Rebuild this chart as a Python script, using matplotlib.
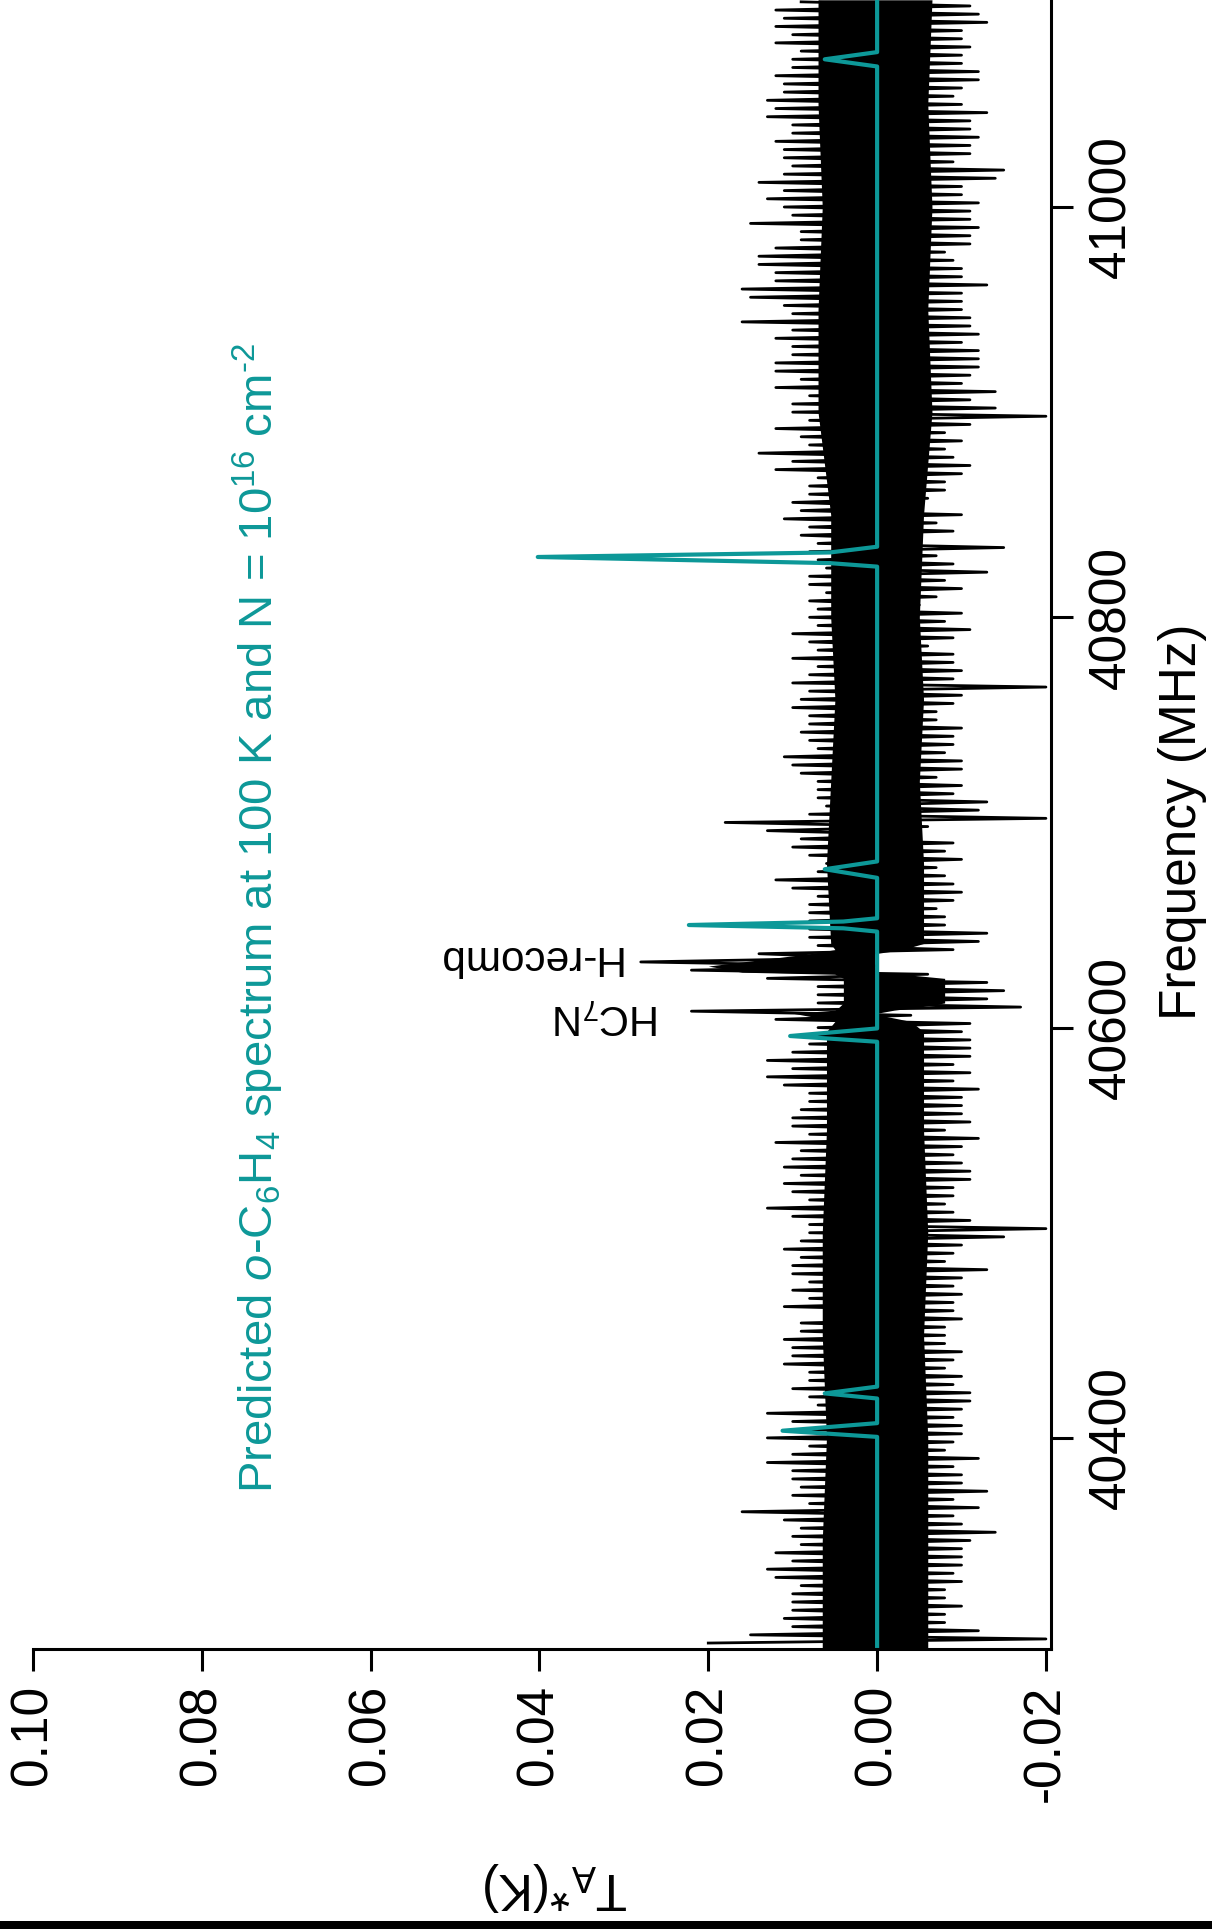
import numpy as np
import matplotlib
matplotlib.use('Agg')
import matplotlib.pyplot as plt
from matplotlib.patches import Rectangle

plt.rcParams['font.family'] = 'Liberation Sans'
plt.rcParams['mathtext.fontset'] = 'custom'
plt.rcParams['mathtext.rm'] = 'Liberation Sans'
plt.rcParams['mathtext.it'] = 'Liberation Sans:italic'

TEAL = '#0d9898'

# observed spectrum, every 2 MHz from 41100 MHz downwards, alternating
# upper (pos) and lower (neg) excursions, in mK
obs_freq = np.arange(41100, 40298, -2)
pos_mk = [9, 12, 11, 12, 10, 12, 9, 10, 10, 12, 11, 11, 13, 12, 13, 10, 10, 12, 11, 11,
          10, 11, 14, 11, 13, 11, 10, 15, 9, 9, 12, 14, 14, 12, 12, 16, 15, 11, 10, 16,
          10, 12, 10, 10, 12, 12, 9, 12, 8, 10, 10,
          8, 12, 9, 8, 14, 10, 12, 7, 8, 8, 10, 9, 11, 8, 9, 7, 8, 7, 6, 8,
          8, 6, 8, 7, 8, 7, 10, 8, 7, 10, 7, 8, 10, 8, 9, 10, 8, 8, 9, 8,
          7, 11, 10, 9, 7, 7, 7, 6, 8, 18, 13,
          9, 10, 8, 6, 7, 12, 10, 7, 8, 8, 8, 8, 8, 7, 14, 28, 22, 13, 7, 7,
          7, 22, 12, 7, 10, 8, 10, 13, 10, 13, 11, 8, 8, 9, 10, 10, 8, 12, 9, 10,
          11, 9, 11, 10, 8, 13, 10, 8, 8, 9, 11,
          9, 10, 10, 8, 10, 8, 11, 6, 9, 9, 11, 10, 10, 11, 8, 8, 10, 8, 7, 13,
          10, 8, 13, 8, 10, 13, 10, 10, 9, 10, 8, 16, 11, 9, 10, 9, 12, 10, 13, 12,
          9, 10, 10, 10, 11, 10, 15, 20]
neg_mk = [-11, -12, -13, -10, -10, -11, -10, -10, -12, -12, -10, -9, -10, -13, -11, -11, -12, -11, -11, -9,
          -15, -14, -10, -10, -12, -11, -11, -12, -11, -11, -8, -9, -10, -10, -13, -10, -10, -10, -11, -11,
          -12, -10, -12, -12, -12, -11, -10, -14, -11, -14, -20,
          -11, -8, -10, -8, -9, -11, -10, -8, -8, -6, -5, -10, -7, -9, -5, -15, -7, -9, -13, -8,
          -10, -7, -5, -10, -8, -11, -9, -6, -9, -9, -10, -9, -20, -10, -9, -7, -7, -10, -9, -9,
          -8, -10, -10, -7, -10, -9, -13, -12, -20, -6, -5,
          -9, -8, -10, -7, -8, -9, -10, -9, -7, -8, -8, -13, -12, -9, 1, 0, -6, -13, -15, -13,
          -17, -4, -11, -10, -11, -11, -11, -9, -11, -9, -12, -10, -10, -10, -11, -8, -12, -10, -9, -10,
          -11, -11, -9, -9, -8, -9, -11, -20, -15, -10, -9,
          -8, -13, -10, -9, -10, -9, -9, -10, -8, -8, -8, -10, -9, -8, -10, -9, -11, -11, -10, -9,
          -10, -10, -9, -8, -12, -9, -10, -10, -13, -9, -12, -9, -10, -14, -11, -10, -10, -10, -9, -10,
          -8, -8, -10, -8, -8, -12, -20]

# solid central part of the noise band (mK)
core_freq = [40297, 40350, 40400, 40450, 40500, 40550, 40598, 40603, 40605.5, 40607, 40608.5,
             40610, 40612, 40624, 40626, 40627, 40630, 40633, 40636, 40638, 40641,
             40680, 40720, 40760, 40800, 40850, 40900, 40950, 41000, 41050, 41101]
core_hi = [6.5, 6.5, 6, 6.5, 6.5, 6, 6, 5, 8, 10, 5,
           4.5, 4, 4, 5, 16, 20, 14, 8, 5, 5.5,
           6, 5.5, 5, 5.5, 5.5, 7, 7, 6.5, 7, 7]
core_lo = [-6, -6, -6, -5.5, -6, -5.5, -5.5, -4, -1, 0, -2,
           -5, -8, -8, -3, 0, 0.3, 0.3, 0.3, -3, -5.5,
           -5.5, -5, -5.5, -5, -5.5, -6.5, -6, -6.5, -6, -6.5]

# predicted o-C6H4 spectrum (mK)
pred_freq = [40297, 40400.5, 40403.5, 40407.2, 40419.2, 40421.7, 40425.0, 40593.1, 40595.9, 40599.6,
             40646.8, 40648.4, 40650.0, 40651.7, 40653.3, 40673.0, 40677.2, 40681.0,
             40824.7, 40826.4, 40829.4, 40831.6, 40834.4, 41068.5, 41072.0, 41075.5, 41101]
pred_mk = [0, 0, 11.2, 0, 0, 6.2, 0, 0, 10.3, 0,
           0, 4, 22.3, 4, 0, 0, 6.2, 0,
           0, 5.6, 40.2, 5.6, 0, 0, 6.2, 0, 0]

ta_ticks = [0.10, 0.08, 0.06, 0.04, 0.02, 0.00, -0.02]
ta_labels = ['0.10', '0.08', '0.06', '0.04', '0.02', '0.00', '-0.02']
freq_ticks = [40400, 40600, 40800, 41000]

obs_mk = np.empty(len(obs_freq))
obs_mk[0::2] = pos_mk
obs_mk[1::2] = neg_mk

W, H = 1212, 1929
fig = plt.figure(figsize=(W / 100, H / 100), dpi=100)
ax = fig.add_axes([33 / W, 1 - 1649 / H, (1051 - 33) / W, 1649 / H])

ax.fill_betweenx(core_freq, np.array(core_lo) / 1000, np.array(core_hi) / 1000,
                 color='k', lw=0)
ax.plot(obs_mk / 1000, obs_freq, color='k', lw=2.0)
ax.plot(np.array(pred_mk) / 1000, pred_freq, color=TEAL, lw=3.0)

ax.set_xlim(0.10, -0.0206)
ax.set_ylim(40297.1, 41100.9)

for s in ['left', 'top']:
    ax.spines[s].set_visible(False)
for s in ['bottom', 'right']:
    ax.spines[s].set_linewidth(2.2)

ax.yaxis.tick_right()
ax.set_xticks(ta_ticks)
ax.set_xticklabels(ta_labels, rotation=90)
ax.set_yticks(freq_ticks)
ax.set_yticklabels([str(f) for f in freq_ticks], rotation=90, va='center')
ax.tick_params(direction='out', length=16, width=2.2, pad=10, labelsize=37)

fig.text(1158 / W, 1 - 822 / H, 'Frequency (MHz)', rotation=90, ha='left', va='center',
         fontsize=37)
fig.text(628 / W, 1 - 1873 / H, r'T$_{\rm A}$*(K)', rotation=180, rotation_mode='anchor',
         ha='left', va='baseline', fontsize=37)

fig.text(273 / W, 1 - 1493 / H,
         r'Predicted $\it{o}$-C$_6$H$_4$ spectrum at 100 K and N = 10$^{16}$ cm$^{\text{-2}}$',
         rotation=90, rotation_mode='anchor', ha='left', va='baseline', fontsize=34,
         color=TEAL)
fig.text(660 / W, 1 - 1005 / H, r'HC$_7$N', rotation=180, rotation_mode='anchor',
         ha='left', va='baseline', fontsize=30)
fig.text(621 / W, 1 - 946 / H, 'H-recomb', rotation=180, rotation_mode='anchor',
         ha='left', va='baseline', fontsize=30.5)

fig.add_artist(Rectangle((0, 0), 1, 8 / H, transform=fig.transFigure, color='k', lw=0))

fig.savefig('out.png', dpi=100)
